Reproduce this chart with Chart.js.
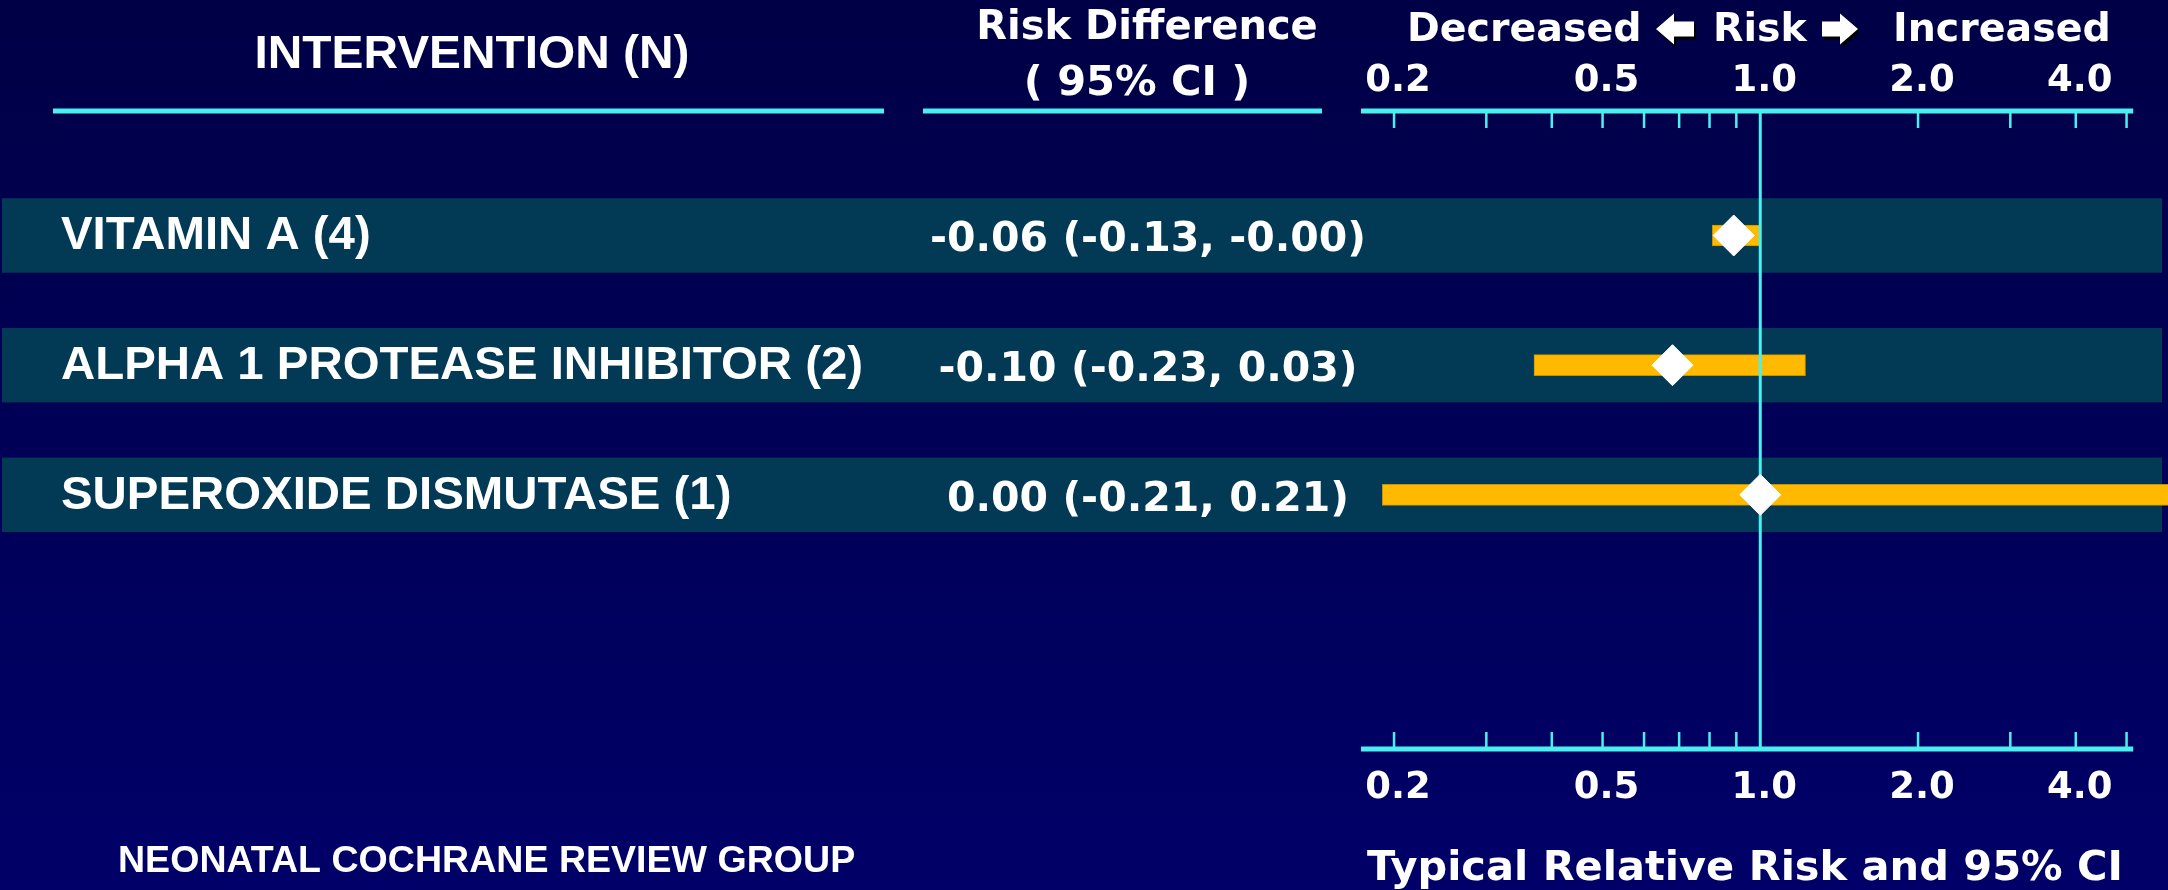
<!DOCTYPE html>
<html>
<head>
<meta charset="utf-8">
<script src="https://cdn.jsdelivr.net/npm/chart.js@4.4.1/dist/chart.umd.min.js"></script>
<style>
  html, body { margin: 0; padding: 0; background: #000050; overflow: hidden; }
  #wrap { width: 2168px; height: 890px; position: relative; }
</style>
</head>
<body>
<div id="wrap"><canvas id="forest"></canvas></div>
<script>
// Rows of the forest plot
const interventions = ['VITAMIN A (4)', 'ALPHA 1 PROTEASE INHIBITOR (2)', 'SUPEROXIDE DISMUTASE (1)'];
const riskDifference = ['-0.06 (-0.13, -0.00)', '-0.10 (-0.23, 0.03)', '0.00 (-0.21, 0.21)'];
// Typical relative risk with its 95% confidence interval
const relativeRisk = [0.89, 0.68, 1.00];
const ciLower = [0.81, 0.37, 0.19];
const ciUpper = [1.00, 1.22, 6.5];
// Relative-risk axis
const minorTicks = [0.2, 0.3, 0.4, 0.5, 0.6, 0.7, 0.8, 0.9, 2, 3, 4, 5];
const labelTicks = [0.2, 0.5, 1, 2, 4];
const tickLabels = ['0.2', '0.5', '1.0', '2.0', '4.0'];
const axisSpan = [0.173, 5.15];

const SANS = '"Liberation Sans", Arial, sans-serif';
const WIDE = '"DejaVu Sans", Verdana, sans-serif';
const CYAN = '#4af0f0';
const GOLD = '#ffba00';
const BAND = '#023a55';

function text(ctx, s, x, y, font, align, sx) {
  ctx.save();
  ctx.font = font;
  ctx.fillStyle = '#ffffff';
  ctx.textBaseline = 'alphabetic';
  ctx.textAlign = align || 'left';
  ctx.translate(x, y);
  ctx.scale(sx || 1, 1);
  ctx.fillText(s, 0, 0);
  ctx.restore();
}

function blockArrow(ctx, x0, x1, cy, dir) {
  // dir = -1 points left, +1 points right
  const headLen = 18, halfHead = 15.5, halfShaft = 7.5;
  const tip = dir < 0 ? x0 : x1;
  const tail = dir < 0 ? x1 : x0;
  const base = tip - dir * headLen;
  const pts = [[tip, cy], [base, cy - halfHead], [base, cy - halfShaft], [tail, cy - halfShaft],
               [tail, cy + halfShaft], [base, cy + halfShaft], [base, cy + halfHead]];
  const path = (dx, dy) => {
    ctx.beginPath();
    pts.forEach((p, i) => i ? ctx.lineTo(p[0] + dx, p[1] + dy) : ctx.moveTo(p[0] + dx, p[1] + dy));
    ctx.closePath();
  };
  ctx.fillStyle = '#000000';
  path(2, 3); ctx.fill();
  ctx.fillStyle = '#ffffff';
  path(0, 0); ctx.fill();
}

const forestDecor = {
  id: 'forestDecor',
  beforeDraw(chart) {
    const { ctx, width, height } = chart;
    const y = chart.scales.y;
    ctx.save();
    const g = ctx.createLinearGradient(0, 0, 0, height);
    g.addColorStop(0, '#000046');
    g.addColorStop(1, '#000068');
    ctx.fillStyle = g;
    ctx.fillRect(0, 0, width, height);
    // row bands
    ctx.fillStyle = BAND;
    interventions.forEach((_, i) => {
      const t = y.getPixelForValue(i - 0.287);
      const b = y.getPixelForValue(i + 0.287);
      ctx.fillRect(2, t, 2160, b - t);
    });
    ctx.restore();
  },
  afterDatasetDraw(chart, args) {
    if (args.meta.type !== 'bar') return;
    const { ctx } = chart;
    const x = chart.scales.x;
    const y = chart.scales.y;
    ctx.save();
    ctx.fillStyle = CYAN;
    const px = x.getPixelForValue(1);
    const t = y.getPixelForValue(y.min);
    const b = y.getPixelForValue(y.max);
    ctx.fillRect(px - 1.5, t, 3, b - t);
    ctx.restore();
  },
  afterDraw(chart) {
    const { ctx } = chart;
    const x = chart.scales.x;
    const y = chart.scales.y;
    const top = y.getPixelForValue(y.min), bottom = y.getPixelForValue(y.max);
    ctx.save();

    // axis lines and tick marks
    ctx.fillStyle = CYAN;
    const xl = x.getPixelForValue(axisSpan[0]);
    const xr = x.getPixelForValue(axisSpan[1]);
    ctx.fillRect(xl, top - 2.5, xr - xl, 5);
    ctx.fillRect(xl, bottom - 2.5, xr - xl, 5);
    minorTicks.forEach(v => {
      const px = x.getPixelForValue(v);
      ctx.fillRect(px - 1.2, top + 2, 2.5, 15);
      ctx.fillRect(px - 1.2, bottom - 17, 2.5, 15);
    });

    // column underlines
    ctx.fillRect(53, top - 2.5, 831, 5);
    ctx.fillRect(923, top - 2.5, 399, 5);

    // tick labels
    labelTicks.forEach((v, i) => {
      const px = x.getPixelForValue(v) + 4;
      text(ctx, tickLabels[i], px, top - 20, 'bold 37px ' + WIDE, 'center');
      text(ctx, tickLabels[i], px, bottom + 49, 'bold 37px ' + WIDE, 'center');
    });

    // headers
    text(ctx, 'INTERVENTION (N)', 472, 68, 'bold 46px ' + SANS, 'center', 1.04);
    text(ctx, 'Risk Difference', 1147, 39, 'bold 40px ' + WIDE, 'center');
    text(ctx, '( 95% CI )', 1137, 95, 'bold 41.5px ' + WIDE, 'center');
    text(ctx, 'Decreased', 1407, 41, 'bold 39.5px ' + WIDE, 'left');
    text(ctx, 'Risk', 1713, 41, 'bold 39.5px ' + WIDE, 'left');
    text(ctx, 'Increased', 1893, 41, 'bold 39.5px ' + WIDE, 'left');
    blockArrow(ctx, 1656, 1694, 29, -1);
    blockArrow(ctx, 1822, 1858, 29, 1);

    // row texts
    interventions.forEach((name, i) => {
      const cy = y.getPixelForValue(i);
      text(ctx, name, 61, cy + 14, 'bold 46px ' + SANS, 'left', 1.03);
      text(ctx, riskDifference[i], 1148, cy + 16, 'bold 41px ' + WIDE, 'center');
    });

    // footer and axis title
    text(ctx, 'NEONATAL COCHRANE REVIEW GROUP', 118, 872, 'bold 37px ' + SANS, 'left', 1.015);
    text(ctx, 'Typical Relative Risk and 95% CI', 1367, 880, 'bold 41.5px ' + WIDE, 'left');
    ctx.restore();
  }
};

new Chart(document.getElementById('forest'), {
  type: 'scatter',
  data: {
    datasets: [
      {
        type: 'scatter',
        label: 'Typical relative risk',
        data: relativeRisk.map((v, i) => ({ x: v, y: i })),
        pointStyle: 'rectRot',
        pointRadius: 20.5,
        pointHoverRadius: 20.5,
        backgroundColor: '#ffffff',
        borderColor: '#ffffff',
        borderWidth: 1,
        order: 1
      },
      {
        type: 'bar',
        label: '95% CI',
        indexAxis: 'y',
        data: ciLower.map((lo, i) => ({ x: [lo, ciUpper[i]], y: i })),
        backgroundColor: GOLD,
        borderColor: '#c99300',
        borderWidth: 1,
        borderSkipped: false,
        barThickness: 21,
        order: 2
      }
    ]
  },
  options: {
    responsive: true,
    maintainAspectRatio: false,
    animation: false,
    devicePixelRatio: 1,
    layout: { autoPadding: false, padding: { left: 1361, right: 0, top: 111, bottom: 141 } },
    plugins: { legend: { display: false }, tooltip: { enabled: false } },
    scales: {
      x: { type: 'logarithmic', min: 0.173, max: 6.0, offset: false, display: false },
      y: { type: 'linear', min: -0.96, max: 3.96, reverse: true, offset: false, display: false }
    }
  },
  plugins: [forestDecor]
});
</script>
</body>
</html>
